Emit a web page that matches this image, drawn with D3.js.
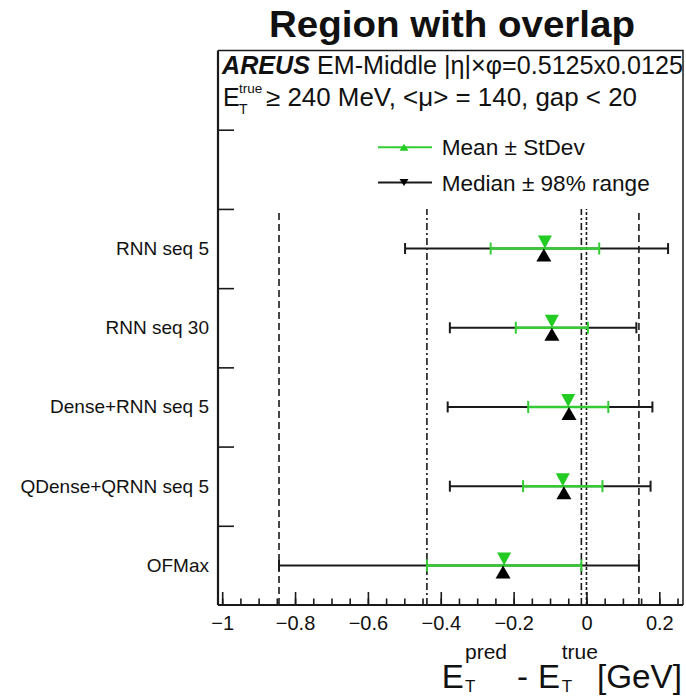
<!DOCTYPE html>
<html lang="en">
<head>
<meta charset="UTF-8">
<title>Region with overlap</title>
<script src="https://d3js.org/d3.v7.min.js"></script>
<style>
    body {
        margin: 0;
        background: #fff;
    }
    svg text {
        font-family: "Liberation Sans", Arial, sans-serif;
        fill: #111;
    }
</style>
</head>
<body>
<svg id="chart" width="686" height="698"></svg>
<script>
    // values (GeV)
    let categories = ["RNN seq 5", "RNN seq 30", "Dense+RNN seq 5", "QDense+QRNN seq 5", "OFMax"]
    let meanValues = [-0.114, -0.095, -0.050, -0.065, -0.226]
    let stdevValues = [0.149, 0.099, 0.110, 0.109, 0.212]
    let medianValues = [-0.117, -0.095, -0.048, -0.062, -0.229]
    let range98Low = [-0.498, -0.375, -0.381, -0.375, -0.844]
    let range98High = [0.224, 0.137, 0.181, 0.176, 0.144]
    let xTickValues = [-1, -0.8, -0.6, -0.4, -0.2, 0, 0.2]

    let green = "#33cc33"
    let dark = "#1a1a1a"

    let rows = categories.map((name, i) => ({
        name: name,
        pos: categories.length - 0.5 - i,
        mean: meanValues[i],
        sd: stdevValues[i],
        median: medianValues[i],
        lo: range98Low[i],
        hi: range98High[i]
    }))

    let frame = {left: 218, right: 683, top: 50.5, bottom: 605}
    let svg = d3.select("#chart")

    let x = d3.scaleLinear().domain([-1.0115, 0.265]).range([frame.left, frame.right])
    let y = d3.scaleLinear().domain([0, 7]).range([frame.bottom, frame.top])

    // triangle with its apex at (cx, cy); up = pointing upwards
    function triangle(cx, cy, w, h, up) {
        let p = d3.path()
        p.moveTo(cx, cy)
        p.lineTo(cx - w / 2, cy + (up ? h : -h))
        p.lineTo(cx + w / 2, cy + (up ? h : -h))
        p.closePath()
        return p.toString()
    }

    // title
    svg.append("text")
        .attr("x", 452).attr("y", 37)
        .attr("text-anchor", "middle")
        .style("font-size", "36px").style("font-weight", "bold")
        .attr("textLength", 366).attr("lengthAdjust", "spacingAndGlyphs")
        .text("Region with overlap")

    // reference lines taken from OFMax
    let ref = rows[rows.length - 1]
    let refLines = [
        {v: ref.lo, dash: "7,4"},
        {v: ref.hi, dash: "7,4"},
        {v: ref.mean - ref.sd, dash: "7,3,2,3"},
        {v: ref.mean + ref.sd, dash: "7,3,2,3"},
        {v: 0, dash: "3,2"}
    ]
    svg.append("g").selectAll("line")
        .data(refLines)
        .join("line")
        .attr("x1", d => x(d.v)).attr("x2", d => x(d.v))
        .attr("y1", y(0)).attr("y2", y(5))
        .attr("stroke", dark).attr("stroke-width", 1.6)
        .attr("stroke-dasharray", d => d.dash)

    // x axis: minor then major ticks pointing inward
    let minorTicks = d3.range(-1, 0.2501, 0.05)
    svg.append("g")
        .attr("transform", `translate(0,${frame.bottom})`)
        .call(d3.axisBottom(x).tickValues(minorTicks).tickSize(-6.5).tickFormat(""))
        .call(g => g.select(".domain").remove())
        .call(g => g.selectAll("line").attr("stroke", dark).attr("stroke-width", 1.6))

    svg.append("g")
        .attr("transform", `translate(0,${frame.bottom})`)
        .call(d3.axisBottom(x).tickValues(xTickValues).tickSize(-13).tickPadding(11)
            .tickFormat(d => d === 0 ? "0" : d3.format("~g")(d)))
        .call(g => g.select(".domain").remove())
        .call(g => g.selectAll("line").attr("stroke", dark).attr("stroke-width", 1.6))
        .call(g => g.selectAll("text").style("font-size", "20px").attr("fill", "#111"))

    // y axis ticks
    svg.append("g")
        .attr("transform", `translate(${frame.left},0)`)
        .call(d3.axisLeft(y).tickValues([1, 2, 3, 4, 5, 6]).tickSize(-16).tickFormat(""))
        .call(g => g.select(".domain").remove())
        .call(g => g.selectAll("line").attr("stroke", dark).attr("stroke-width", 1.6))

    // category labels
    svg.append("g").selectAll("text")
        .data(rows)
        .join("text")
        .attr("x", frame.left - 9)
        .attr("y", d => y(d.pos) + 6.5)
        .attr("text-anchor", "end")
        .style("font-size", "19px")
        .text(d => d.name)

    // frame
    svg.append("line")
        .attr("x1", frame.left).attr("x2", frame.right)
        .attr("y1", frame.bottom).attr("y2", frame.bottom)
        .attr("stroke", dark).attr("stroke-width", 2)
    svg.append("line")
        .attr("x1", frame.left).attr("x2", frame.left)
        .attr("y1", frame.top).attr("y2", frame.bottom)
        .attr("stroke", dark).attr("stroke-width", 2.2)
    svg.append("polyline")
        .attr("points", `${frame.left},${frame.top} ${frame.right},${frame.top} ${frame.right},${frame.bottom}`)
        .attr("fill", "none").attr("stroke", dark).attr("stroke-width", 1.5)

    // error bars
    let bars = svg.append("g").selectAll("g")
        .data(rows)
        .join("g")

    bars.append("line")
        .attr("x1", d => x(d.lo)).attr("x2", d => x(d.hi))
        .attr("y1", d => y(d.pos)).attr("y2", d => y(d.pos))
        .attr("stroke", dark).attr("stroke-width", 2)
    bars.selectAll(".capBlack")
        .data(d => [{v: d.lo, pos: d.pos}, {v: d.hi, pos: d.pos}])
        .join("line")
        .attr("class", "capBlack")
        .attr("x1", d => x(d.v)).attr("x2", d => x(d.v))
        .attr("y1", d => y(d.pos) - 5.5).attr("y2", d => y(d.pos) + 5.5)
        .attr("stroke", dark).attr("stroke-width", 2)

    bars.append("line")
        .attr("x1", d => x(d.mean - d.sd)).attr("x2", d => x(d.mean + d.sd))
        .attr("y1", d => y(d.pos)).attr("y2", d => y(d.pos))
        .attr("stroke", green).attr("stroke-width", 2.5)
    bars.selectAll(".capGreen")
        .data(d => [{v: d.mean - d.sd, pos: d.pos}, {v: d.mean + d.sd, pos: d.pos}])
        .join("line")
        .attr("class", "capGreen")
        .attr("x1", d => x(d.v)).attr("x2", d => x(d.v))
        .attr("y1", d => y(d.pos) - 6).attr("y2", d => y(d.pos) + 6)
        .attr("stroke", green).attr("stroke-width", 2)

    bars.append("path")
        .attr("d", d => triangle(x(d.mean), y(d.pos), 14, 13, false))
        .attr("fill", "#22cc22")
    bars.append("path")
        .attr("d", d => triangle(x(d.median), y(d.pos), 15, 13, true))
        .attr("fill", "#000")

    // info text
    let info = svg.append("text")
        .attr("x", 222).attr("y", 74)
        .style("font-size", "25px")
        .attr("textLength", 461).attr("lengthAdjust", "spacingAndGlyphs")
    info.append("tspan").style("font-weight", "bold").style("font-style", "italic").text("AREUS")
    info.append("tspan").text(" EM-Middle |η|×φ=0.5125x0.0125")

    svg.append("text").attr("x", 223).attr("y", 106).style("font-size", "25px").text("E")
    svg.append("text").attr("x", 239).attr("y", 93).style("font-size", "13.5px").text("true")
    svg.append("text").attr("x", 239).attr("y", 114).style("font-size", "14px").text("T")
    svg.append("text")
        .attr("x", 266).attr("y", 106)
        .style("font-size", "25px")
        .attr("textLength", 371).attr("lengthAdjust", "spacingAndGlyphs")
        .text("≥ 240 MeV, <μ> = 140, gap < 20")

    // legend (markers as drawn in the original legend)
    let legendItems = [
        {label: "Mean ± StDev", color: green, marker: "#22cc22", up: true, y: 147.3, w: 143},
        {label: "Median ± 98% range", color: dark, marker: "#000", up: false, y: 182.5, w: 208}
    ]
    let legend = svg.append("g").selectAll("g")
        .data(legendItems)
        .join("g")
    legend.append("line")
        .attr("x1", 378).attr("x2", 432)
        .attr("y1", d => d.y).attr("y2", d => d.y)
        .attr("stroke", d => d.color).attr("stroke-width", 2)
    legend.append("path")
        .attr("d", d => triangle(404, d.y + (d.up ? -3.5 : 3.5), 9, 7, d.up))
        .attr("fill", d => d.marker)
    legend.append("text")
        .attr("x", 441.7).attr("y", d => d.y + 8)
        .style("font-size", "22px")
        .attr("textLength", d => d.w).attr("lengthAdjust", "spacingAndGlyphs")
        .text(d => d.label)

    // x axis title
    let xt = svg.append("g").style("font-size", "33px")
    xt.append("text").attr("x", 441.7).attr("y", 688).text("E")
    xt.append("text").attr("x", 465).attr("y", 659).style("font-size", "21px").text("pred")
    xt.append("text").attr("x", 465).attr("y", 692).style("font-size", "17px").text("T")
    xt.append("text").attr("x", 517).attr("y", 688).text("-")
    xt.append("text").attr("x", 538).attr("y", 688).text("E")
    xt.append("text").attr("x", 561.7).attr("y", 659).style("font-size", "21px").text("true")
    xt.append("text").attr("x", 561.7).attr("y", 692).style("font-size", "17px").text("T")
    xt.append("text").attr("x", 597).attr("y", 688)
        .attr("textLength", 85).attr("lengthAdjust", "spacingAndGlyphs").text("[GeV]")
</script>
</body>
</html>
